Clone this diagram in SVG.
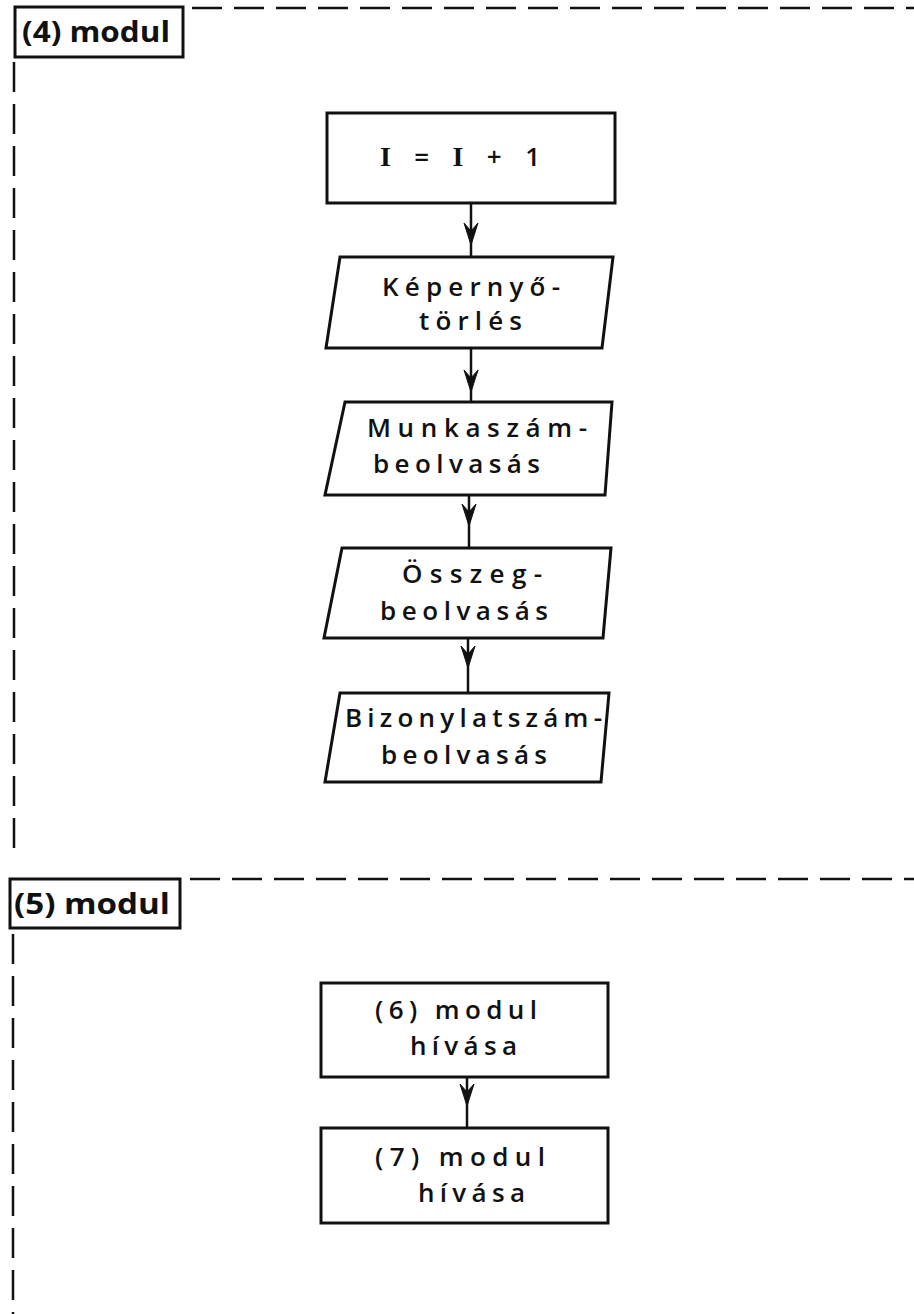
<svg xmlns="http://www.w3.org/2000/svg" width="914" height="1314" viewBox="0 0 914 1314">
<style>
.box{fill:#fff;stroke:#111;stroke-width:3}
.dash{fill:none;stroke:#111;stroke-width:2.5;stroke-dasharray:30 12}
.con{fill:none;stroke:#111;stroke-width:2.5}
.ah{fill:#111;stroke:#111;stroke-width:1}
text{font-family:"Open Sans","DejaVu Sans","Liberation Sans",sans-serif;fill:#111;font-size:26px;font-weight:600}
.lbl{font-size:29px;font-weight:700}
.serif{font-family:"Liberation Serif",serif;font-weight:700}
</style>
<defs>
<path id="arr" class="ah" d="M0,0 L-7,-22 L0,-14 L7,-22 Z"/>
</defs>
<rect width="914" height="1314" fill="#fff"/>
<g id="frames">
<line class="dash" x1="192" y1="8" x2="914" y2="8"/>
<line class="dash" x1="14" y1="62" x2="14" y2="848"/>
<line class="dash" x1="190" y1="879" x2="914" y2="879"/>
<line class="dash" x1="13" y1="934" x2="13" y2="1314"/>
</g>
<g id="mod4">
<rect class="box" x="15" y="7" width="168" height="50"/>
<text class="lbl" x="22" y="42" textLength="148" lengthAdjust="spacingAndGlyphs">(4) modul</text>
</g>
<g id="mod5">
<rect class="box" x="10" y="879" width="170" height="49"/>
<text class="lbl" x="14" y="914" textLength="156" lengthAdjust="spacingAndGlyphs">(5) modul</text>
</g>
<g id="connectors">
<line class="con" x1="471" y1="203" x2="471" y2="257"/>
<use href="#arr" x="471" y="245"/>
<line class="con" x1="471" y1="348" x2="471" y2="402"/>
<use href="#arr" x="471" y="392"/>
<line class="con" x1="469" y1="495" x2="469" y2="548"/>
<use href="#arr" x="469" y="526"/>
<line class="con" x1="468" y1="638" x2="468" y2="693"/>
<use href="#arr" x="468" y="668"/>
<line class="con" x1="467" y1="1077" x2="467" y2="1128"/>
<use href="#arr" x="467" y="1106"/>
</g>
<g id="n1">
<rect class="box" x="327" y="113" width="288" height="90"/>
<text x="380" y="166" textLength="160" lengthAdjust="spacing"><tspan class="serif" font-size="28">I</tspan> = <tspan class="serif" font-size="28">I</tspan> + 1</text>
</g>
<g id="n2">
<polygon class="box" points="340,257 613,257 602,348 326,348"/>
<text x="382" y="296" textLength="178" lengthAdjust="spacing">Képernyő-</text>
<text x="419" y="330" textLength="103" lengthAdjust="spacing">törlés</text>
</g>
<g id="n3">
<polygon class="box" points="345,402 612,402 605,495 325,495"/>
<text x="367" y="437" textLength="220" lengthAdjust="spacing">Munkaszám-</text>
<text x="373" y="473" textLength="167" lengthAdjust="spacing">beolvasás</text>
</g>
<g id="n4">
<polygon class="box" points="342,548 611,548 603,638 324,638"/>
<text x="402" y="583" textLength="140" lengthAdjust="spacing">Összeg-</text>
<text x="380" y="620" textLength="168" lengthAdjust="spacing">beolvasás</text>
</g>
<g id="n5">
<polygon class="box" points="340,693 609,693 601,782 325,782"/>
<text x="345" y="727" textLength="257" lengthAdjust="spacing">Bizonylatszám-</text>
<text x="381" y="764" textLength="166" lengthAdjust="spacing">beolvasás</text>
</g>
<g id="n6">
<rect class="box" x="321" y="983" width="287" height="94"/>
<text x="375" y="1019" textLength="162" lengthAdjust="spacing">(6) modul</text>
<text x="410" y="1055" textLength="107" lengthAdjust="spacing">hívása</text>
</g>
<g id="n7">
<rect class="box" x="321" y="1128" width="287" height="95"/>
<text x="375" y="1166" textLength="170" lengthAdjust="spacing">(7) modul</text>
<text x="418" y="1202" textLength="107" lengthAdjust="spacing">hívása</text>
</g>
</svg>
